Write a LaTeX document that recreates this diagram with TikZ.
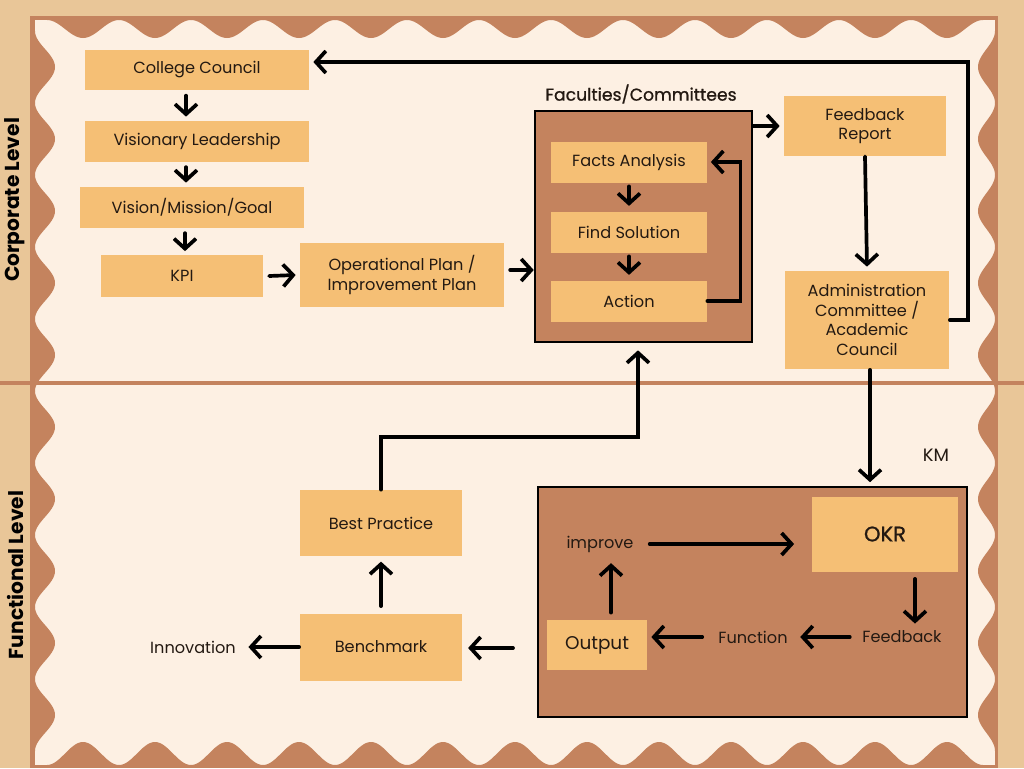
\documentclass[tikz,border=0pt]{standalone}
\usepackage{fontspec}
\setmainfont{Poppins}
\newfontfamily\medfont[FakeBold=0.9]{Poppins}
\usetikzlibrary{positioning, arrows.meta, calc}
\definecolor{tanbg}{RGB}{233,198,152}
\definecolor{rust}{RGB}{196,131,94}
\definecolor{cream}{RGB}{253,240,227}
\definecolor{apricot}{RGB}{245,191,117}
\definecolor{ink}{RGB}{35,25,18}
\newcommand{\boxfont}{\fontsize{9.2}{11.2}\selectfont}
\tikzset{
  pbox/.style   = {fill=apricot, text=ink, font=\boxfont, align=center, inner sep=2pt},
  panel/.style  = {draw=black, line width=1.5pt, fill=rust},
  lbl/.style    = {text=ink, font=\boxfont, inner sep=1pt},
  level/.style  = {rotate=90, font=\fontsize{11.5}{13}\selectfont\bfseries},
  arr/.style    = {-{Straight Barb[length=2mm, width=4.4mm]}, line width=2.1pt, line cap=round},
  hump/.style   = {fill=rust, variable=\t, domain=-36:36, samples=31}
}

\begin{document}
\begin{tikzpicture}[x=0.02cm, y=-0.02cm]

    % ── Frame and background ─────────────────────────────────────────────
    \fill[tanbg] (0,0) rectangle (1024,768);
    \useasboundingbox (0,0) rectangle (1024,768);
    \fill[rust] (30,16) rectangle (998,768);
    \fill[cream] (35,20) rectangle (995,765);
    \foreach \c in {83,155,...,947} {
      \fill[hump] plot ({\c+\t}, {20+9*(1+cos(5*\t))}) -- cycle;
      \fill[hump] plot ({\c+\t}, {765-11.5*(1+cos(5*\t))}) -- cycle;
    }
    \foreach \c in {67,139,...,715} {
      \fill[hump] plot ({35+10*(1+cos(5*\t))}, {\c+\t}) -- cycle;
      \fill[hump] plot ({995-8.5*(1+cos(5*\t))}, {\c+\t}) -- cycle;
    }
    \draw[rust, line width=1.8pt] (0,383) -- (1024,383);

    % ── Level labels ─────────────────────────────────────────────────────
    \node[level] (corp) at (15,200) {Corporate Level};
    \node[level] (func) at (15,575) {Functional Level};

    % ════════════════════════════════════════════════════════════════════
    %  CORPORATE LEVEL
    % ════════════════════════════════════════════════════════════════════

    % Left column
    \node[pbox, minimum width=4.5cm,  minimum height=0.8cm]  (council) at (197,70)  {College Council};
    \node[pbox, minimum width=4.5cm,  minimum height=0.82cm] (leader)  at (197,141) {Visionary Leadership};
    \node[pbox, minimum width=4.5cm,  minimum height=0.82cm] (vision)  at (192,207) {Vision/Mission/Goal};
    \node[pbox, minimum width=3.26cm, minimum height=0.84cm] (kpi)     at (182,276) {KPI};

    \draw[arr] ([xshift=-0.22cm, yshift=-3pt]council.south) -- ([xshift=-0.22cm, yshift=2pt]council.south |- leader.north);
    \draw[arr] ([xshift=-0.22cm, yshift=-3pt]leader.south)  -- ([xshift=-0.22cm, yshift=2pt]leader.south |- vision.north);
    \draw[arr] ([xshift=-0.14cm, yshift=-3pt]vision.south)  -- ([xshift=-0.14cm, yshift=2pt]vision.south |- kpi.north);

    % Plan
    \node[pbox, minimum width=4.1cm, minimum height=1.28cm] (plan) at (402,275)
      {Operational Plan /\\Improvement Plan};
    \draw[arr] ([xshift=3pt]kpi.east) -- ([xshift=-2pt]plan.west);

    % Faculties / committees panel
    \node[panel, minimum width=4.34cm, minimum height=4.62cm] (fac) at (643.5,226.5) {};
    \node[lbl, font=\medfont\fontsize{9.8}{11}\selectfont] (factitle) at (641,94) {Faculties/Committees};
    \node[pbox, minimum width=3.12cm, minimum height=0.82cm] (facts) at (629,162) {Facts Analysis};
    \node[pbox, minimum width=3.12cm, minimum height=0.82cm] (solve) at (629,232) {Find Solution};
    \node[pbox, minimum width=3.12cm, minimum height=0.82cm] (act)   at (629,301) {Action};

    \draw[arr] ([yshift=-2pt]facts.south) -- ([yshift=3pt]solve.north);
    \draw[arr] ([yshift=-2pt]solve.south) -- ([yshift=3pt]act.north);
    \draw[arr] (act.east) -- ++(33,0) |- ([xshift=2pt]facts.east);
    \draw[arr] ([xshift=3pt]plan.east |- 0,270) -- (fac.west |- 0,270);

    % Right column
    \node[pbox, minimum width=3.26cm, minimum height=1.2cm] (report) at (865,126)
      {Feedback\\Report};
    \node[pbox, minimum width=3.3cm, minimum height=1.98cm] (admin) at (867,320)
      {Administration\\Committee /\\Academic\\Council};

    \draw[arr] (fac.east |- report) -- ([xshift=-2pt]report.west);
    \draw[arr] (report.south) -- ([yshift=2pt]admin.north);
    \draw[arr] (admin.east) -- ++(18,0) |- ([xshift=2pt]council.east |- 0,62);

    % ════════════════════════════════════════════════════════════════════
    %  FUNCTIONAL LEVEL
    % ════════════════════════════════════════════════════════════════════

    % KM panel
    \node[panel, minimum width=8.58cm, minimum height=4.6cm] (kmbox) at (752.5,602) {};
    \node[lbl, font=\fontsize{10.2}{11}\selectfont] (km) at (936,455) {KM};
    \draw[arr] ([xshift=0.06cm]admin.south) -- ([xshift=0.06cm, yshift=2pt]admin.south |- kmbox.north);

    \node[pbox, minimum width=2.92cm, minimum height=1.5cm, font=\medfont\fontsize{12}{13}\selectfont] (okr) at (885,534) {OKR};
    \node[lbl] (improve)  at (600,544) {improve};
    \node[lbl] (feedback) at (902,637) {Feedback};
    \node[lbl] (function) at (753,637) {Function};
    \node[pbox, minimum width=2.02cm, minimum height=1.0cm, font=\fontsize{10.5}{12}\selectfont] (output) at (597,645) {Output};

    \draw[arr] ([xshift=8pt]improve.east) -- ([xshift=-10pt]okr.west |- improve);
    \draw[arr] ([xshift=0.6cm, yshift=-4pt]okr.south) -- ([xshift=0.6cm, yshift=3pt]okr.south |- feedback.north);
    \draw[arr] ([xshift=-6pt]feedback.west) -- ([xshift=6pt]function.east);
    \draw[arr] ([xshift=-8pt]function.west) -- ([xshift=2pt]output.east |- function);
    \draw[arr] ([xshift=0.28cm, yshift=4pt]output.north) -- ([xshift=0.28cm, yshift=-5pt]output.north |- improve.south);

    % Benchmark / best practice
    \node[pbox, minimum width=3.26cm, minimum height=1.34cm] (bench)    at (381,647) {Benchmark};
    \node[pbox, minimum width=3.26cm, minimum height=1.32cm] (bestprac) at (381,523) {Best Practice};
    \node[lbl] (innov) at (193,647) {Innovation};
    \coordinate (benchin) at (513,648);

    \draw[arr] (benchin) -- ([xshift=3pt]bench.east |- benchin);
    \draw[arr] (bench.west) -- ([xshift=6pt]innov.east);
    \draw[arr] ([yshift=4pt]bench.north) -- ([yshift=-3pt]bestprac.south);
    \draw[arr] (bestprac.north) |- (638,437) -- ([yshift=-4pt]fac.south -| 638,0);

\end{tikzpicture}
\end{document}
